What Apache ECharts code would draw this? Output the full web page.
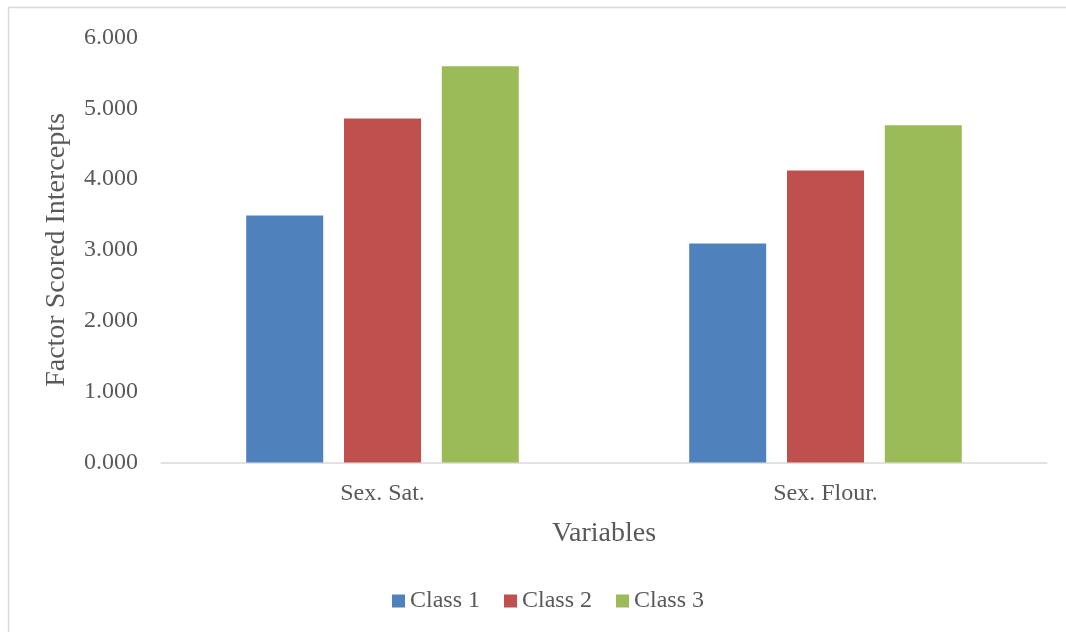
<!DOCTYPE html>
<html>
<head>
<meta charset="utf-8">
<script src="https://cdn.jsdelivr.net/npm/echarts@6/dist/echarts.min.js"></script>
<style>
  html, body { margin: 0; padding: 0; background: #ffffff; }
  #chart { width: 1066px; height: 632px; }
</style>
</head>
<body>
<div id="chart"></div>
<script>
// Factor scored intercepts per latent class
const categories = ['Sex. Sat.', 'Sex. Flour.'];
const seriesNames = ['Class 1', 'Class 2', 'Class 3'];
const class1 = [3.488, 3.093];
const class2 = [4.857, 4.123];
const class3 = [5.595, 4.762];
const colors = ['#4f81bd', '#c0504d', '#9bbb59'];

const FONT = 'Liberation Serif';
const TEXT = '#595959';

const chart = echarts.init(document.getElementById('chart'), null, { renderer: 'canvas' });

const values = [class1, class2, class3];

chart.setOption({
  animation: false,
  backgroundColor: '#ffffff',
  textStyle: { fontFamily: FONT, color: TEXT },
  graphic: [{
    type: 'rect',
    shape: { x: 8.5, y: 7.5, width: 1100, height: 700 },
    style: { fill: 'none', stroke: '#d9d9d9', lineWidth: 1.5 },
    silent: true
  }],
  grid: { left: 161, right: 19, top: 37.5, bottom: 169.5, containLabel: false },
  legend: {
    left: 392,
    top: 589,
    padding: 0,
    itemWidth: 13,
    itemHeight: 13,
    itemGap: 24,
    icon: 'rect',
    data: seriesNames,
    textStyle: { fontFamily: FONT, fontSize: 24, color: TEXT }
  },
  xAxis: {
    type: 'category',
    data: categories,
    name: 'Variables',
    nameLocation: 'middle',
    nameGap: 57,
    nameTextStyle: { fontFamily: FONT, fontSize: 28, color: TEXT },
    axisLine: { lineStyle: { color: '#d9d9d9', width: 1.5 } },
    axisTick: { show: false },
    axisLabel: { fontFamily: FONT, fontSize: 24, color: TEXT, margin: 19 }
  },
  yAxis: {
    type: 'value',
    min: 0,
    max: 6,
    interval: 1,
    name: 'Factor Scored Intercepts',
    nameLocation: 'middle',
    nameGap: 90,
    nameTextStyle: { fontFamily: FONT, fontSize: 28, color: TEXT },
    axisLine: { show: false },
    axisTick: { show: false },
    splitLine: { show: false },
    axisLabel: {
      fontFamily: FONT, fontSize: 24, color: TEXT, margin: 23,
      formatter: v => v.toFixed(3)
    }
  },
  series: seriesNames.map((name, i) => ({
    name,
    type: 'bar',
    data: values[i],
    barWidth: 77,
    barGap: '27%',
    itemStyle: { color: colors[i] }
  }))
});
</script>
</body>
</html>
